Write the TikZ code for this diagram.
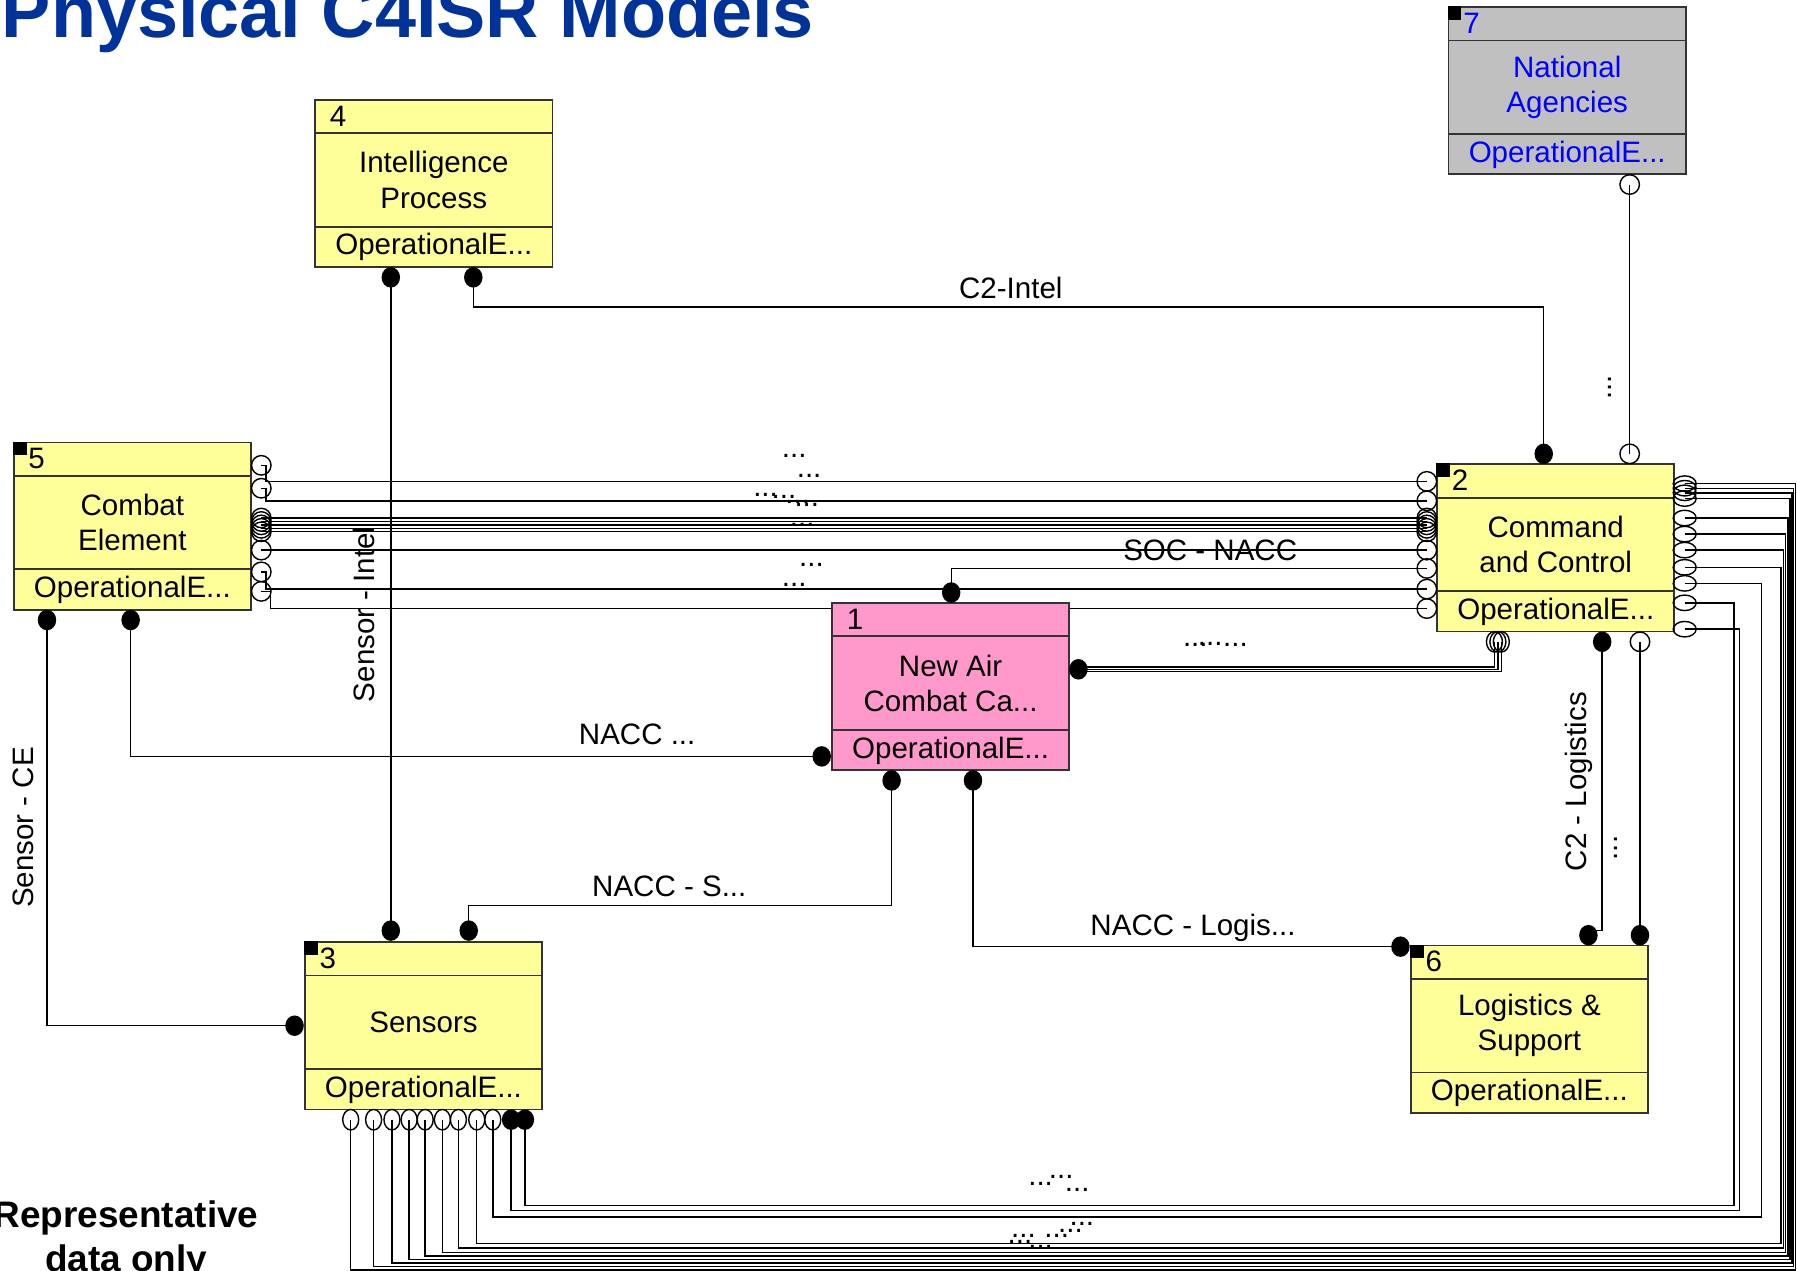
\documentclass[tikz,border=0pt]{standalone}
\usepackage{fontspec}
\setmainfont{Liberation Sans}
\usetikzlibrary{positioning, calc, backgrounds, shapes.geometric}
\definecolor{opyellow}{RGB}{255,255,153}
\definecolor{oppink}{RGB}{255,153,204}
\definecolor{opgray}{RGB}{192,192,192}
\definecolor{titleblue}{RGB}{0,51,153}
\definecolor{nodeblue}{RGB}{0,0,255}

% one operational node: name, centre, number, text, fill, text colour
\newcommand{\opbox}[6]{%
  \node[opbox, fill=#5] (#1) at #2 {};
  \draw[divider] ($(#1.north west)+(0,30)$) -- ($(#1.north east)+(0,30)$);
  \draw[divider] ($(#1.south west)+(0,-36)$) -- ($(#1.south east)+(0,-36)$);
  \node[txt, text=#6, anchor=west] (#1-no) at ($(#1.north west)+(13,15)$) {#3};
  \node[txt, text=#6, align=center] (#1-name) at ($(#1.center)+(0,-3)$) {#4};
  \node[txt, text=#6] (#1-kind) at ($(#1.south)+(0,-18)$) {OperationalE...};
}

\begin{document}
\begin{tikzpicture}[
  x=0.1146mm, y=-0.1146mm,
  opbox/.style={rectangle, draw=black!80, line width=0.5pt,
                minimum width=23.72mm, minimum height=16.73mm, inner sep=0pt},
  divider/.style={draw=black!80, line width=0.5pt},
  txt/.style={font=\fontsize{8.4}{10}\selectfont, inner sep=0pt},
  conn/.style={draw=black, line width=0.4pt},
  corner/.style={fill=black},
  endfill/.style={ellipse, fill=black, minimum width=1.85mm, minimum height=2.05mm, inner sep=0pt},
  endopen/.style={circle, draw=black, line width=0.4pt, minimum size=1.95mm, inner sep=0pt},
  endopenh/.style={ellipse, draw=black, line width=0.4pt, minimum width=2.3mm, minimum height=1.55mm, inner sep=0pt},
  endopenv/.style={ellipse, draw=black, line width=0.4pt, minimum width=1.6mm, minimum height=2.05mm, inner sep=0pt}
]
  \useasboundingbox (0,0) rectangle (1568,1109);

  \node[anchor=base west, inner sep=0pt, text=titleblue,
        font=\fontsize{21}{25}\selectfont\bfseries] (title) at (1,33) {Physical C4ISR Models};
  \node[inner sep=0pt, align=center, font=\fontsize{10.5}{12.3}\selectfont\bfseries]
        (note) at (110,1082) {Representative\\data only};

  % boxes
  \opbox{intel}{(378.5,160)}{4}{Intelligence\\Process}{opyellow}{black}
  \opbox{nat}{(1367.5,79)}{7}{National\\Agencies}{opgray}{nodeblue}
  \opbox{ce}{(115.5,459)}{5}{Combat\\Element}{opyellow}{black}
  \opbox{ctrl}{(1357.5,478)}{2}{Command\\and Control}{opyellow}{black}
  \opbox{nacc}{(829.5,599)}{1}{New Air\\Combat Ca...}{oppink}{black}
  \opbox{sens}{(369.5,895)}{3}{Sensors}{opyellow}{black}
  \opbox{logi}{(1334.5,898)}{6}{Logistics \&\\Support}{opyellow}{black}
  \foreach \b in {nat, ce, ctrl, sens, logi}
    \fill[corner] (\b.north west) rectangle ++(12,12);

  % port ends
  \node[endfill] (i4a) at (341,242) {};
  \node[endfill] (i4b) at (413,242) {};
  \node[endopen] (n7) at (1422,161) {};
  \node[endfill] (c2t) at (1347,396) {};
  \node[endopen] (c2u) at (1422,396) {};
  \node[endopenv] (c2ba) at (1304,560) {};
  \node[endopenv] (c2bb) at (1307,560) {};
  \node[endopenv] (c2bc) at (1310,560) {};
  \node[endfill] (c2bd) at (1398,560) {};
  \node[endopen] (c2be) at (1431,560) {};
  \foreach \k/\yy in {1/420,2/437,3/452,4/455,5/458,6/461,7/464,8/480,9/496,10/514,11/531}
    \node[endopen] (cl\k) at (1245,\yy) {};
  \foreach \k/\yy in {1/422,2/426,3/430,4/435,5/452,6/466,7/480,8/495,9/509,10/526,11/549}
    \node[endopenh] (cr\k) at (1470,\yy) {};
  \foreach \k/\yy in {1/406,2/426,3/452,4/455,5/458,6/461,7/464,8/480,9/499,10/516}
    \node[endopen] (ce\k) at (228,\yy) {};
  \node[endfill] (ceb1) at (41,541) {};
  \node[endfill] (ceb2) at (114,541) {};
  \node[endfill] (n1t) at (830,517) {};
  \node[endfill] (n1r) at (941,584) {};
  \node[endfill] (n1l) at (717,660) {};
  \node[endfill] (n1a) at (778,681) {};
  \node[endfill] (n1b) at (849,681) {};
  \node[endfill] (s3a) at (341,812) {};
  \node[endfill] (s3b) at (409,812) {};
  \node[endfill] (s3l) at (257,895) {};
  \foreach \k/\xx in {1/306,2/326,3/342,4/357,5/371,6/386,7/400,8/416,9/430}
    \node[endopenv] (sb\k) at (\xx,977) {};
  \node[endfill] (sb10) at (446,977) {};
  \node[endfill] (sb11) at (458,977) {};
  \node[endfill] (l6l) at (1222,826) {};
  \node[endfill] (l6a) at (1386,816) {};
  \node[endfill] (l6b) at (1431,816) {};

  % connectors
  \begin{scope}[on background layer]
    \draw[conn] (i4a.center) -- (s3a.center);
    \draw[conn] (i4b.center) -- ++(0,26) -| (c2t.center);
    \draw[conn] (n7.center) -- (c2u.center);
    \draw[conn] (ce1.center) -- ++(4,0) |- (cl1.center);
    \draw[conn] (ce2.center) -- ++(4,0) |- (cl2.center);
    \foreach \k in {3,...,8}
      \draw[conn] (ce\k.center) -- (cl\k.center);
    \draw[conn] (ce9.center) -- ++(4,0) |- (cl10.center);
    \draw[conn] (ce10.center) -- ++(8,0) |- (cl11.center);
    \draw[conn] (n1t.center) |- (cl9.center);
    \draw[conn] (n1r.center) ++(0,-2) -| (c2ba.center);
    \draw[conn] (n1r.center) -| (c2bb.center);
    \draw[conn] (n1r.center) ++(0,2) -| (c2bc.center);
    \draw[conn] (ceb1.center) |- (s3l.center);
    \draw[conn] (ceb2.center) |- (n1l.center);
    \draw[conn] (n1a.center) -- ++(0,109) -| (s3b.center);
    \draw[conn] (n1b.center) |- (l6l.center);
    \draw[conn] (c2bd.center) -- ++(0,252) -| (l6a.center);
    \draw[conn] (c2be.center) -- (l6b.center);
    \foreach \k/\xx/\yy/\s in {1/1566.5/1108/1, 2/1565/1105/2, 3/1563.5/1102/3,
        4/1562/1099/4, 5/1560/1096/5, 6/1558/1093/6, 7/1556/1089/7, 8/1554/1085/8,
        9/1537/1062/9, 10/1513/1052/11, 11/1518/1056/10}
      \draw[conn] (cr\k.center) -| (\xx,\yy) -| (sb\s.center);
  \end{scope}

  % connector labels
  \node[txt] (lbl-c2intel) at (882,251) {C2-Intel};
  \node[txt] (lbl-soc) at (1056,480) {SOC - NACC};
  \node[txt] (lbl-nacc) at (556,641) {NACC ...};
  \node[txt] (lbl-naccs) at (584,773) {NACC - S...};
  \node[txt] (lbl-naccl) at (1041,810) {NACC - Logis...};
  \node[txt, rotate=90] (lbl-sensint) at (318,536) {Sensor - Intel};
  \node[txt, rotate=90] (lbl-sensce) at (20,722) {Sensor - CE};
  \node[txt, rotate=90] (lbl-c2log) at (1378,682) {C2 - Logistics};
  \node[txt, rotate=90] (lbl-nat) at (1405,338) {...};
  \node[txt, rotate=90] (lbl-log) at (1410,740) {...};
  \foreach \xx/\yy in {693/398, 706/415, 668/432, 684/434, 696/438, 704/441, 700/458,
      708/493, 693/510, 1043/563, 1056/562, 1078/563, 908/1033, 926/1027, 940/1038,
      893/1078, 922/1078, 934/1074, 944/1068, 890/1084, 908/1088}
    \node[txt] at (\xx,\yy) {...};
\end{tikzpicture}
\end{document}
